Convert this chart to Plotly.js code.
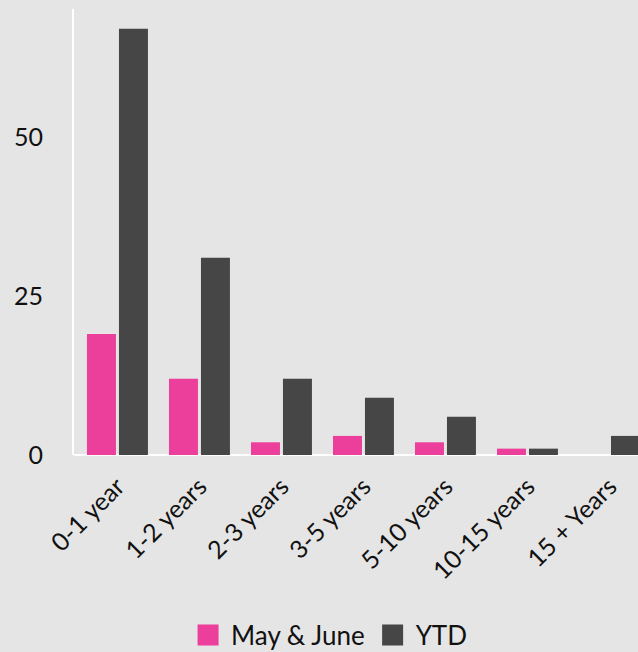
<!DOCTYPE html>
<html>
<head>
<meta charset="utf-8">
<script src="https://cdn.plot.ly/plotly-3.0.1.min.js"></script>
<style>html,body{margin:0;padding:0;overflow:hidden;background:#e5e5e5;}</style>
</head>
<body>
<div id="chart" style="width:638px;height:652px;"></div>
<script>
const categories = ["0-1 year", "1-2 years", "2-3 years", "3-5 years", "5-10 years", "10-15 years", "15 + Years"];
const mayJune = [19, 12, 2, 3, 2, 1, 0];
const ytd = [67, 31, 12, 9, 6, 1, 3];
const seriesNames = ["May & June", "YTD"];
const colors = ["#ec3f9b", "#464646"];
const yTicks = [0, 25, 50];

const traces = [
  {type: "bar", x: categories, y: mayJune, name: seriesNames[0], marker: {color: colors[0]}, showlegend: false, hoverinfo: "x+y"},
  {type: "bar", x: categories, y: ytd, name: seriesNames[1], marker: {color: colors[1]}, showlegend: false, hoverinfo: "x+y"},
  {type: "scatter", mode: "markers", x: [null], y: [null], name: seriesNames[0], marker: {symbol: "square", size: 16, color: colors[0], line: {width: 5, color: colors[0]}}},
  {type: "scatter", mode: "markers", x: [null], y: [null], name: seriesNames[1], marker: {symbol: "square", size: 16, color: colors[1], line: {width: 5, color: colors[1]}}}
];

const layout = {
  width: 638, height: 652,
  paper_bgcolor: "#e5e5e5", plot_bgcolor: "#e5e5e5",
  font: {family: "Lato, sans-serif", color: "#111111", size: 25},
  margin: {l: 74, r: 0, t: 9, b: 197, pad: 0},
  barmode: "group", bargap: 0.22, bargroupgap: 0.094,
  xaxis: {
    type: "category", range: [-0.53, 6.348], showgrid: false, zeroline: false,
    showline: false, tickangle: -45, ticks: "", ticklabelstandoff: 11,
    tickfont: {size: 25}
  },
  yaxis: {
    range: [0, 70.1], tickvals: yTicks, ticktext: yTicks.map(String), showgrid: false,
    zeroline: true, zerolinecolor: "#ffffff", zerolinewidth: 2,
    showline: true, linecolor: "#ffffff", linewidth: 2,
    ticks: "", ticklabelstandoff: 24, tickfont: {size: 25}
  },
  showlegend: true,
  legend: {orientation: "h", xref: "container", yref: "container", x: 0.515, xanchor: "center", y: 0.026, yanchor: "middle", itemwidth: 36, font: {size: 26}, bgcolor: "rgba(0,0,0,0)"}
};

Plotly.newPlot("chart", traces, layout, {displayModeBar: false});
</script>
</body>
</html>
